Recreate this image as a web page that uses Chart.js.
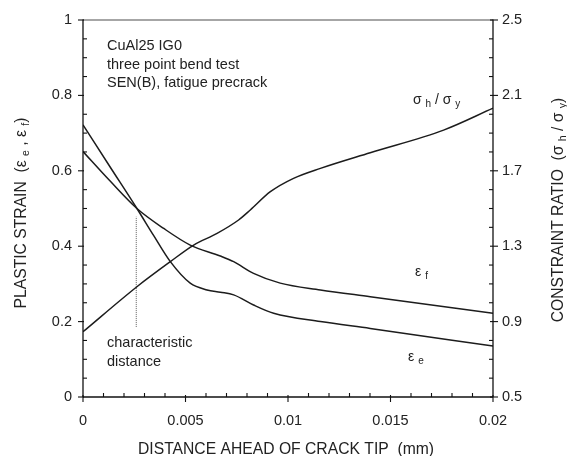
<!DOCTYPE html>
<html><head><meta charset="utf-8">
<script src="https://cdn.jsdelivr.net/npm/chart.js@4.4.1/dist/chart.umd.min.js"></script>
<style>html,body{margin:0;padding:0;background:#fff}#wrap{width:567px;height:456px;position:relative}canvas{display:block}</style>
</head><body><div id="wrap"><canvas id="c" width="567" height="456"></canvas></div>
<script>
// ---- tick values & labels ----
const xTicks = [0, 0.005, 0.01, 0.015, 0.02];
const xTickLabels = ['0', '0.005', '0.01', '0.015', '0.02'];
const yTicks = [0, 0.2, 0.4, 0.6, 0.8, 1];
const yTickLabels = ['0', '0.2', '0.4', '0.6', '0.8', '1'];
const y2Ticks = [0.5, 0.9, 1.3, 1.7, 2.1, 2.5];
const y2TickLabels = ['0.5', '0.9', '1.3', '1.7', '2.1', '2.5'];

// ---- series: equivalent plastic strain eps_e ----
const epsEx = [0, 0.0013, 0.00263, 0.00345, 0.00426, 0.00523, 0.00605, 0.0067, 0.00735, 0.00832, 0.0093, 0.01158, 0.01401, 0.02];
const epsEy = [0.722, 0.612, 0.500, 0.428, 0.359, 0.302, 0.284, 0.278, 0.271, 0.244, 0.222, 0.200, 0.182, 0.135];

// ---- series: eps_f ----
const epsFx = [0, 0.0013, 0.00263, 0.00394, 0.00523, 0.0067, 0.00735, 0.00832, 0.00962, 0.01158, 0.01401, 0.02];
const epsFy = [0.651, 0.574, 0.500, 0.447, 0.403, 0.374, 0.359, 0.328, 0.302, 0.284, 0.266, 0.222];

// ---- series: constraint ratio sigma_h / sigma_y (right axis) ----
const ratioX = [0, 0.00263, 0.00426, 0.0054, 0.00654, 0.00759, 0.00816, 0.00914, 0.01027, 0.01158, 0.01401, 0.01759, 0.02];
const ratioY = [0.846, 1.085, 1.218, 1.306, 1.368, 1.439, 1.492, 1.589, 1.660, 1.713, 1.796, 1.916, 2.032];

// ---- characteristic distance marker ----
const charX = [0.0026, 0.0026];
const charY = [0.186, 0.478];

const pts = (xs, ys) => xs.map((x, i) => ({x, y: ys[i]}));
const FONT = '"Liberation Sans", Arial, Helvetica, sans-serif';
const INK = '#222';

function richWidth(ctx, segs, size, subSize) {
  let w = 0;
  for (const [t, sub] of segs) {
    ctx.font = (sub ? subSize : size) + 'px ' + FONT;
    w += ctx.measureText(t).width;
  }
  return w;
}
function drawRich(ctx, segs, x, y, size, subSize, align) {
  const w = richWidth(ctx, segs, size, subSize);
  let cx = align === 'center' ? x - w / 2 : x;
  ctx.textBaseline = 'alphabetic';
  ctx.textAlign = 'left';
  for (const [t, sub] of segs) {
    ctx.font = (sub ? subSize : size) + 'px ' + FONT;
    ctx.fillText(t, cx, y + (sub ? 3 : 0));
    cx += ctx.measureText(t).width;
  }
}

const decor = {
  id: 'decor',
  afterDraw(chart) {
    const ctx = chart.ctx;
    const {left, right, top, bottom} = chart.chartArea;
    const xs = chart.scales.x, ys = chart.scales.y, y2 = chart.scales.y2;
    ctx.save();
    const line = (a, b, c, d) => { ctx.beginPath(); ctx.moveTo(a, b); ctx.lineTo(c, d); ctx.stroke(); };
    // frame
    ctx.lineWidth = 1.3;
    ctx.strokeStyle = '#888';
    line(left, top, right, top);
    ctx.strokeStyle = '#111';
    line(left, top - 0.6, left, bottom);
    line(left, bottom, right, bottom);
    line(right, top - 0.6, right, bottom);
    ctx.lineWidth = 1.1;
    // x ticks
    xTicks.forEach((v, i) => {
      const p = xs.getPixelForValue(v);
      line(p, bottom - 2, p, bottom + 5);
      if (i < xTicks.length - 1) {
        for (let k = 1; k < 5; k++) {
          const q = xs.getPixelForValue(v + (xTicks[i + 1] - v) * k / 5);
          line(q, bottom, q, bottom - 4);
        }
      }
    });
    // left y ticks
    yTicks.forEach((v, i) => {
      const p = ys.getPixelForValue(v);
      line(left - 5, p, left + 1, p);
      if (i < yTicks.length - 1) {
        for (let k = 1; k < 4; k++) {
          const q = ys.getPixelForValue(v + (yTicks[i + 1] - v) * k / 4);
          line(left, q, left + 4, q);
        }
      }
    });
    // right y ticks
    y2Ticks.forEach((v, i) => {
      const p = y2.getPixelForValue(v);
      line(right - 3, p, right + 5, p);
      if (i < y2Ticks.length - 1) {
        for (let k = 1; k < 4; k++) {
          const q = y2.getPixelForValue(v + (y2Ticks[i + 1] - v) * k / 4);
          line(right, q, right - 4, q);
        }
      }
    });

    ctx.fillStyle = INK;
    // axis titles
    const TS = 15.7, SS = 10.5;
    const xt = [['DISTANCE AHEAD OF CRACK TIP  (mm)', false]];
    drawRich(ctx, xt, 286, 453.5, TS, SS, 'center');

    const lt = [['PLASTIC STRAIN  (', false], ['\u03b5', false], [' ', false], ['e', true], [' , ', false], ['\u03b5', false], [' ', false], ['f', true], [')', false]];
    ctx.save(); ctx.translate(26, 213); ctx.rotate(-Math.PI / 2);
    drawRich(ctx, lt, 0, 0, TS, SS, 'center'); ctx.restore();

    const rt = [['CONSTRAINT RATIO  (', false], ['\u03c3', false], [' ', false], ['h', true], [' / ', false], ['\u03c3', false], [' ', false], ['y', true], [')', false]];
    ctx.save(); ctx.translate(562.5, 210); ctx.rotate(-Math.PI / 2);
    drawRich(ctx, rt, 0, 0, TS, SS, 'center'); ctx.restore();

    // annotations
    const tx = (s, x, y) => drawRich(ctx, [[s, false]], x, y, 14.5, 10, 'left');
    tx('CuAl25 IG0', 107, 50);
    tx('three point bend test', 107, 68.5);
    tx('SEN(B), fatigue precrack', 107, 87);
    tx('characteristic', 107, 347);
    tx('distance', 107, 365.5);
    drawRich(ctx, [['\u03c3', false], [' ', false], ['h', true], [' / ', false], ['\u03c3', false], [' ', false], ['y', true]], 413, 104, 14, 10, 'left');
    drawRich(ctx, [['\u03b5', false], [' ', false], ['f', true]], 415, 276, 14, 10, 'left');
    drawRich(ctx, [['\u03b5', false], [' ', false], ['e', true]], 408, 361, 14, 10, 'left');
    ctx.restore();
  }
};

const lineDs = (data, axis) => ({
  data, yAxisID: axis, borderColor: '#1c1c1c', borderWidth: 1.5,
  pointRadius: 0, fill: false, cubicInterpolationMode: 'monotone'
});

const tickFont = {family: FONT, size: 14.5};
const fixTicks = (vals) => (scale) => { scale.ticks = vals.map(v => ({value: v})); };

new Chart(document.getElementById('c'), {
  type: 'line',
  data: {
    datasets: [
      lineDs(pts(epsEx, epsEy), 'y'),
      lineDs(pts(epsFx, epsFy), 'y'),
      lineDs(pts(ratioX, ratioY), 'y2'),
      {data: pts(charX, charY), yAxisID: 'y', borderColor: '#777', borderWidth: 1.2,
       borderDash: [1, 1], pointRadius: 0, fill: false, tension: 0}
    ]
  },
  options: {
    responsive: false,
    animation: false,
    events: [],
    layout: {padding: {top: 20, left: 0, right: 0, bottom: 0}},
    plugins: {legend: {display: false}, tooltip: {enabled: false}},
    scales: {
      x: {
        type: 'linear', min: 0, max: 0.02,
        afterBuildTicks: fixTicks(xTicks),
        afterFit: (s) => { s.height = 59; },
        grid: {display: false, drawTicks: false, tickLength: 0},
        border: {display: false},
        ticks: {font: tickFont, color: INK, padding: 15, maxRotation: 0,
                callback: (v) => xTickLabels[xTicks.indexOf(v)]}
      },
      y: {
        type: 'linear', position: 'left', min: 0, max: 1,
        afterBuildTicks: fixTicks(yTicks),
        afterFit: (s) => { s.width = 83; },
        grid: {display: false, drawTicks: false, tickLength: 0},
        border: {display: false},
        ticks: {font: tickFont, color: INK, padding: 11,
                callback: (v) => yTickLabels[yTicks.indexOf(v)]}
      },
      y2: {
        type: 'linear', position: 'right', min: 0.5, max: 2.5,
        afterBuildTicks: fixTicks(y2Ticks),
        afterFit: (s) => { s.width = 74; },
        grid: {display: false, drawTicks: false, tickLength: 0},
        border: {display: false},
        ticks: {font: tickFont, color: INK, padding: 9,
                callback: (v) => y2TickLabels[y2Ticks.indexOf(v)]}
      }
    }
  },
  plugins: [decor]
});
</script>
</body></html>
